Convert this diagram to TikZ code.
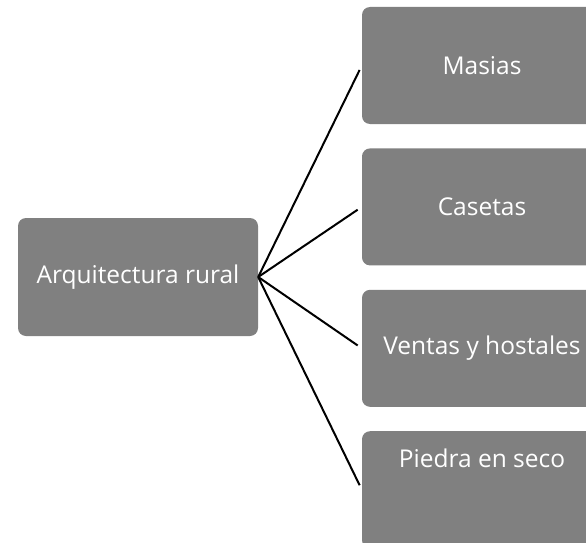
\documentclass[tikz,border=0pt]{standalone}
\usepackage{fontspec}
\setmainfont{Open Sans}
\usetikzlibrary{positioning}
\definecolor{boxgray}{RGB}{128,128,128}
\tikzset{main node/.style={rectangle,rounded corners=8pt,fill=boxgray,draw=none,text=white,
           minimum width=240pt,minimum height=117pt,inner sep=0pt,font=\fontsize{24.5}{29}\selectfont},
         branch/.style={-,line width=2pt,shorten >=5pt}
}
\begin{document}
\begin{tikzpicture}[x=1pt,y=1pt]
\useasboundingbox (0,0) rectangle (586,-543);
\clip (0,0) rectangle (586,-543);
% root and the four branches
\node[main node,minimum height=118pt] (root) at (138,-277) {Arquitectura rural};
\node[main node] (masias) at (482,-65.5) {Masias};
\node[main node,below=24pt of masias] (casetas) {Casetas};
\node[main node,below=24pt of casetas] (ventas) {Ventas y hostales};
\node[main node,below=24pt of ventas] (piedra) {\raisebox{22pt}[0pt][0pt]{Piedra en seco}};

\foreach \b in {masias,casetas,ventas,piedra}
    \draw[branch] (root.east) -- (\b.west);
\end{tikzpicture}
\end{document}
